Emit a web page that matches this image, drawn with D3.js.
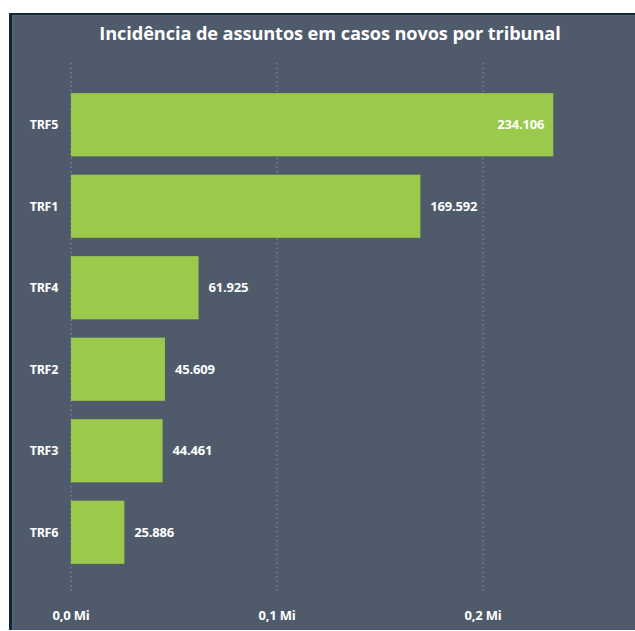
<!DOCTYPE html>
<html>
<head>
<meta charset="utf-8">
<script src="https://cdn.jsdelivr.net/npm/d3@7"></script>
<style>
  html, body { margin: 0; padding: 0; background: #ffffff; }
  #chart svg { display: block; }
  .title { font-family: "Open Sans", sans-serif; font-weight: 700; font-size: 18.2px; fill: #ffffff; letter-spacing: -0.1px; }
  .cat { font-family: "Open Sans", sans-serif; font-weight: 700; font-size: 12.5px; fill: #ffffff; letter-spacing: -0.3px; }
  .val, .tick-label { font-family: "Open Sans", sans-serif; font-weight: 700; font-size: 13px; fill: #ffffff; letter-spacing: -0.2px; }
</style>
</head>
<body>
<div id="chart"></div>
<script>
const categories = ['TRF5', 'TRF1', 'TRF4', 'TRF2', 'TRF3', 'TRF6'];
const values = [234106, 169592, 61925, 45609, 44461, 25886];
const ticks = [0, 100000, 200000];
const tickLabels = ['0,0 Mi', '0,1 Mi', '0,2 Mi'];

const width = 635, height = 631;

const ptBr = d3.formatLocale({ decimal: ',', thousands: '.', grouping: [3], currency: ['R$', ''] });
const fmt = ptBr.format(',d');

const svg = d3.select('#chart').append('svg')
    .attr('width', width)
    .attr('height', height);

// panel with dark left/top edge
svg.append('rect').attr('x', 9).attr('y', 13).attr('width', width - 9).attr('height', height - 14)
    .attr('fill', '#10263d');
svg.append('rect').attr('x', 12).attr('y', 15).attr('width', width - 12).attr('height', height - 16)
    .attr('fill', '#56626f');
svg.append('rect').attr('x', 14).attr('y', 16).attr('width', width - 14).attr('height', height - 17)
    .attr('fill', '#4f5b6b');

svg.append('text').attr('class', 'title')
    .attr('x', 330).attr('y', 40)
    .attr('text-anchor', 'middle')
    .text('Incidência de assuntos em casos novos por tribunal');

const x = d3.scaleLinear().domain([0, 100000]).range([71, 277]);
const y = d3.scaleBand().domain(categories).range([85, 572]).paddingInner(0.225).paddingOuter(0.1);

// dotted gridlines
svg.append('g').selectAll('line').data(ticks)
    .enter().append('line')
    .attr('x1', d => x(d)).attr('x2', d => x(d))
    .attr('y1', 63).attr('y2', 594)
    .attr('stroke', '#8c96a3')
    .attr('stroke-width', 1)
    .attr('stroke-dasharray', '1.5,3');

svg.append('g').selectAll('text').data(ticks)
    .enter().append('text')
    .attr('class', 'tick-label')
    .attr('x', d => x(d)).attr('y', 620)
    .attr('text-anchor', 'middle')
    .text((d, i) => tickLabels[i]);

svg.append('g').selectAll('rect').data(values)
    .enter().append('rect')
    .attr('x', x(0))
    .attr('y', (d, i) => y(categories[i]))
    .attr('width', d => x(d) - x(0))
    .attr('height', y.bandwidth())
    .attr('fill', '#9ac94b');

svg.append('g').selectAll('text').data(categories)
    .enter().append('text')
    .attr('class', 'cat')
    .attr('x', 58)
    .attr('y', d => y(d) + y.bandwidth() / 2)
    .attr('dy', '0.35em')
    .attr('text-anchor', 'end')
    .text(d => d);

const plotRight = 600;
svg.append('g').selectAll('text').data(values)
    .enter().append('text')
    .attr('class', 'val')
    .attr('y', (d, i) => y(categories[i]) + y.bandwidth() / 2)
    .attr('dy', '0.35em')
    .attr('x', d => x(d) + 60 > plotRight ? x(d) - 9 : x(d) + 10)
    .attr('text-anchor', d => x(d) + 60 > plotRight ? 'end' : 'start')
    .text(d => fmt(d));
</script>
</body>
</html>
